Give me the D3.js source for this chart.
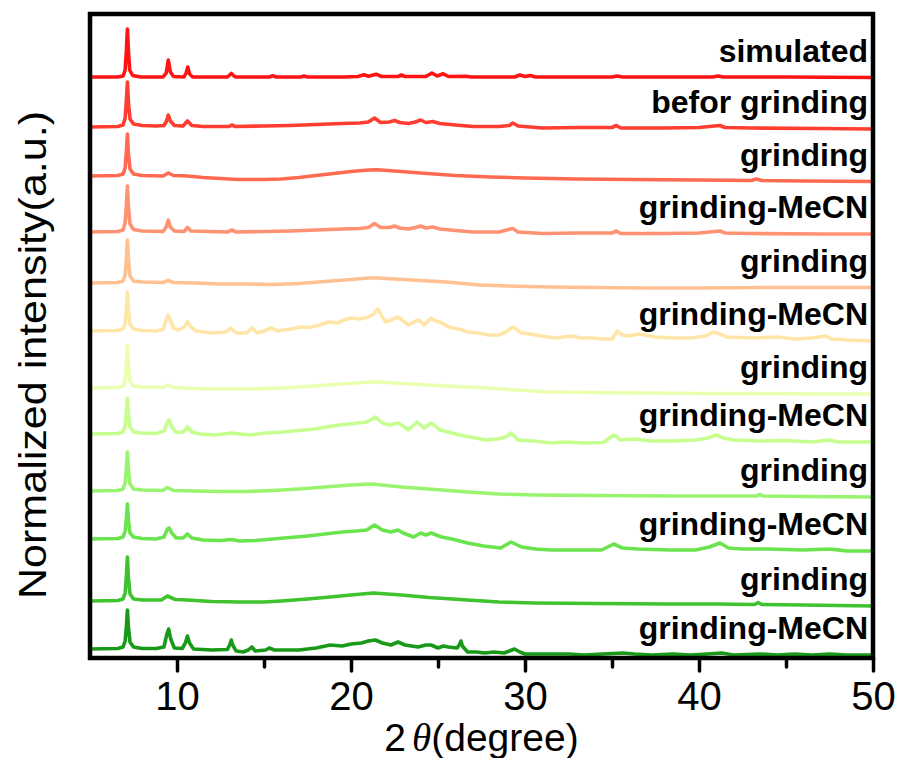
<!DOCTYPE html>
<html>
<head>
<meta charset="utf-8">
<script src="https://cdn.jsdelivr.net/npm/d3@7"></script>
<style>
    html, body { margin: 0; padding: 0; background: #fff; }
    svg text { font-family: "Liberation Sans", Arial, sans-serif; }
</style>
</head>
<body>
<div id="chart"></div>
<script>
// Sample labels (top to bottom)
const sampleLabels = ['simulated', 'befor grinding', 'grinding', 'grinding-MeCN', 'grinding',
    'grinding-MeCN', 'grinding', 'grinding-MeCN', 'grinding', 'grinding-MeCN', 'grinding', 'grinding-MeCN'];

const traceColors = ['#ff1414', '#ff3d30', '#ff6a50', '#ff9272', '#ffc092', '#ffe6a8',
    '#eaffb0', '#c6ff8e', '#98f46e', '#6ae44c', '#3ec22e', '#189a18'];

// Stacking offsets (a.u.)
const offsets = [58.1, 53.1, 48.2, 42.6, 37.5, 32.7, 27.0, 22.4, 16.7, 11.9, 5.7, 0.9];

// Axis ticks
const majorTicks = [10, 20, 30, 40, 50];
const minorTicks = [15, 25, 35, 45];

// Patterns: [2theta, relative intensity]
const simulated = [[5,0],[6.6,0],[6.9,0.1],[7.02,0.7],[7.09,2.6],[7.15,4.8],[7.21,2.6],[7.28,0.7],[7.45,0.15],[7.9,0],
    [9.2,0],[9.38,0.4],[9.5,1.7],[9.62,0.5],[9.8,0.05],[10.4,0],[10.52,0.4],[10.62,1.0],[10.72,0.3],[10.9,0],
    [12.9,0],[13.12,0.35],[13.35,0],[15.3,0],[15.5,0.12],[15.7,0],[17.1,0],[17.3,0.1],[17.5,0],
    [19.6,0],[20.4,0.05],[20.75,0.22],[21.0,0.08],[21.45,0.28],[21.75,0.05],[22.7,0.05],[22.9,0.2],[23.1,0.05],
    [24.3,0.05],[24.65,0.4],[24.95,0.1],[25.3,0.32],[25.6,0.05],[26.6,0.08],[26.9,0],[29.4,0],[29.7,0.2],[30.0,0.05],
    [30.3,0.15],[30.6,0],[35.0,0],[35.3,0.1],[35.6,0],[40.8,0],[41.1,0.1],[41.4,0],[45,0],[50,-0.05]];

const beforGrinding = [[5,0],[6.6,0.05],[6.9,0.2],[7.02,0.9],[7.09,2.6],[7.15,4.5],[7.21,2.4],[7.3,0.8],[7.5,0.3],[8.0,0.15],[8.8,0.1],
    [9.25,0.15],[9.4,0.6],[9.5,1.2],[9.62,0.6],[9.85,0.15],[10.35,0.1],[10.6,0.6],[10.85,0.15],[11.5,0.05],
    [13,0.05],[13.15,0.2],[13.35,0.05],[15,0.1],[16.5,0.15],[18,0.25],[19.5,0.35],[20.5,0.4],[21.0,0.5],[21.35,0.9],
    [21.7,0.45],[22.2,0.5],[22.5,0.65],[22.8,0.45],[23.3,0.35],[23.7,0.5],[24.0,0.7],[24.3,0.45],[24.7,0.55],[25.1,0.35],
    [26,0.2],[27,0.05],[28.5,0.05],[29.1,0.15],[29.3,0.4],[29.6,0.1],[31,-0.1],[33,-0.05],[35,-0.05],[35.25,0.15],
    [35.5,-0.1],[38,-0.1],[40,-0.05],[41.2,0.15],[41.5,-0.05],[43,-0.1],[47,-0.15],[50,-0.2]];

const grinding1 = [[5,0],[6.6,0.05],[6.9,0.2],[7.02,0.8],[7.09,2.4],[7.15,4.2],[7.21,2.2],[7.3,0.7],[7.5,0.2],[8.0,0.05],
    [9.2,0],[9.5,0.3],[9.8,0.05],[10.6,0],[11.5,-0.15],[12.5,-0.25],[13.5,-0.35],[15,-0.35],[16,-0.3],[17,-0.15],
    [18,0.05],[19,0.25],[20,0.45],[21,0.6],[21.5,0.62],[22.5,0.5],[24,0.3],[26,0.05],[28,-0.1],[30,-0.2],[33,-0.3],
    [36,-0.35],[40,-0.4],[43,-0.45],[43.3,-0.3],[43.6,-0.45],[46,-0.5],[50,-0.55]];

const mecn1 = [[5,0],[6.6,0.05],[6.9,0.2],[7.02,0.9],[7.09,2.6],[7.15,4.6],[7.21,2.5],[7.3,0.8],[7.5,0.25],[8.0,0.1],
    [9.2,0.05],[9.38,0.5],[9.5,1.2],[9.62,0.5],[9.85,0.1],[10.4,0.05],[10.6,0.45],[10.8,0.1],[12.9,0.0],[13.15,0.2],
    [13.4,0],[15,0.05],[16.5,0.1],[18,0.2],[19.5,0.3],[20.5,0.35],[21.0,0.45],[21.35,0.85],[21.7,0.45],[22.2,0.45],
    [22.5,0.6],[22.8,0.4],[23.3,0.3],[23.7,0.45],[24.0,0.6],[24.3,0.4],[24.7,0.5],[25.1,0.3],[26,0.15],[27,0.0],
    [28.5,0.0],[29.3,0.35],[29.6,0.0],[31,-0.15],[33,-0.1],[35,-0.1],[35.25,0.1],[35.5,-0.15],[38,-0.15],[40,-0.1],
    [41.2,0.1],[41.5,-0.1],[43,-0.15],[47,-0.2],[50,-0.2]];

const grinding2 = [[5,0],[6.6,0.05],[6.9,0.2],[7.02,0.8],[7.09,2.4],[7.15,4.3],[7.21,2.3],[7.3,0.7],[7.5,0.2],[8.0,0.1],
    [9.2,0.05],[9.5,0.25],[9.8,0.05],[11,0],[12.5,-0.1],[14,-0.1],[15.5,-0.15],[17,-0.05],[18.5,0.15],[20,0.35],
    [21,0.5],[21.5,0.5],[22.5,0.4],[24,0.25],[25.5,0.1],[27.4,-0.2],[29,-0.3],[31.4,-0.4],[34,-0.45],[37,-0.5],
    [40,-0.5],[44,-0.45],[47,-0.45],[50,-0.45]];

const mecn2 = [[5,0],[6.6,0.05],[6.9,0.2],[7.02,0.8],[7.09,2.2],[7.15,3.9],[7.21,2.1],[7.3,0.7],[7.5,0.2],[8.0,0.05],
    [8.8,0],[9.2,0.15],[9.4,1.2],[9.5,1.6],[9.62,1.1],[9.8,0.3],[10.1,0.1],[10.4,0.4],[10.6,0.9],[10.8,0.4],[11.1,0.0],
    [12,-0.2],[12.8,-0.1],[13.1,0.3],[13.4,-0.2],[14.0,-0.2],[14.3,0.3],[14.6,-0.2],[15.0,0.0],[15.4,0.3],[15.8,0.0],
    [16.1,0.1],[16.6,0.2],[17.1,0.4],[17.6,0.35],[18.2,0.6],[18.7,0.9],[19.2,0.8],[19.6,1.1],[20.0,1.3],[20.5,1.2],
    [21.0,1.4],[21.3,1.7],[21.55,2.2],[21.8,1.4],[22.0,0.9],[22.3,1.1],[22.7,1.4],[23.0,1.0],[23.3,0.6],[23.6,0.9],
    [23.9,1.1],[24.2,0.6],[24.6,1.3],[24.85,1.0],[25.1,0.9],[25.4,0.6],[25.8,0.3],[26.2,0.2],[26.7,-0.1],[27.3,-0.2],
    [27.9,-0.4],[28.5,-0.4],[28.9,-0.1],[29.3,0.4],[29.8,-0.2],[30.3,-0.3],[30.95,-0.5],[31.7,-0.7],[32.2,-0.6],
    [32.7,-0.5],[33.2,-0.7],[33.8,-0.7],[34.5,-0.8],[35.0,-0.8],[35.3,0.0],[35.6,-0.4],[36.0,-0.5],[36.5,-0.3],
    [36.9,-0.4],[37.5,-0.6],[38.5,-0.7],[39.5,-0.7],[40.4,-0.5],[40.8,-0.1],[41.2,-0.3],[41.6,-0.6],[43,-0.7],
    [44.5,-0.6],[45.5,-0.8],[46.5,-0.7],[47.3,-0.5],[47.6,-0.8],[48.5,-0.9],[50,-1.0]];

const grinding3 = [[5,0],[6.6,0.05],[6.9,0.2],[7.02,0.8],[7.09,2.4],[7.15,4.3],[7.21,2.3],[7.3,0.7],[7.5,0.2],[8.0,0.1],
    [9.2,0.05],[9.5,0.3],[9.8,0.05],[11,-0.05],[12.5,-0.1],[14.2,-0.1],[16,0.0],[17.5,0.15],[19,0.35],[20.3,0.5],
    [21.4,0.62],[22.5,0.5],[24,0.35],[25.5,0.2],[27.4,0.05],[29.5,-0.2],[31.4,-0.4],[34,-0.45],[37,-0.5],[40,-0.55],
    [44,-0.55],[47,-0.6],[50,-0.6]];

const mecn3 = [[5,0],[6.6,0.05],[6.9,0.2],[7.02,0.8],[7.09,2.1],[7.15,3.6],[7.21,2.0],[7.3,0.7],[7.5,0.2],[8.0,0.1],
    [8.8,0.05],[9.25,0.3],[9.45,1.2],[9.55,1.4],[9.7,0.7],[9.95,0.15],[10.35,0.2],[10.6,0.7],[10.85,0.2],[11.3,0.0],
    [12.2,-0.1],[13.1,0.1],[14.2,-0.1],[15.1,0.1],[16.1,0.2],[17.0,0.35],[17.9,0.5],[18.6,0.7],[19.3,0.9],[19.9,1.0],
    [20.4,1.1],[20.9,1.2],[21.4,1.7],[21.8,1.1],[22.2,0.9],[22.7,1.1],[23.0,0.8],[23.3,0.4],[23.55,0.8],[23.8,1.2],
    [24.2,0.6],[24.6,1.1],[24.85,0.8],[25.1,0.4],[25.8,0.1],[26.5,-0.2],[27.2,-0.4],[27.7,-0.6],[28.4,-0.5],
    [28.9,-0.3],[29.2,0.1],[29.6,-0.6],[30.5,-0.7],[31.5,-0.9],[32.4,-0.8],[33.4,-0.9],[34.5,-0.85],[35.1,-0.1],
    [35.5,-0.6],[36.3,-0.5],[37.2,-0.7],[38.5,-0.7],[39.8,-0.6],[40.5,-0.4],[41.0,-0.1],[41.4,-0.4],[42,-0.6],
    [43.5,-0.7],[45,-0.65],[46.5,-0.8],[47.5,-0.6],[48,-0.8],[50,-0.8]];

const grinding4 = [[5,0],[6.6,0.05],[6.9,0.2],[7.02,0.8],[7.09,2.2],[7.15,3.9],[7.21,2.1],[7.3,0.7],[7.5,0.2],[8.0,0.1],
    [9.2,0.05],[9.45,0.35],[9.8,0.05],[11,0.0],[12.5,-0.05],[14,-0.05],[15.5,0.05],[17,0.2],[18.5,0.4],[20,0.6],
    [21.2,0.7],[22.9,0.4],[24.5,0.2],[26.7,-0.1],[28.5,-0.3],[30.5,-0.4],[34,-0.45],[38.3,-0.5],[41,-0.5],
    [43.3,-0.5],[43.5,-0.35],[43.7,-0.5],[46,-0.55],[50,-0.6]];

const mecn4 = [[5,0],[6.6,0.05],[6.9,0.2],[7.02,0.8],[7.09,2.0],[7.15,3.5],[7.21,1.9],[7.3,0.6],[7.5,0.2],[8.0,0.05],
    [8.8,0.0],[9.25,0.2],[9.45,1.0],[9.55,1.1],[9.7,0.6],[9.95,0.1],[10.35,0.1],[10.6,0.5],[10.85,0.1],[11.5,-0.1],
    [12.5,-0.15],[13.1,-0.05],[13.6,-0.2],[14.5,-0.15],[15.5,0.0],[16.5,0.15],[17.5,0.3],[18.5,0.5],[19.5,0.7],
    [20.3,0.8],[20.9,0.9],[21.35,1.4],[21.8,0.9],[22.3,0.7],[22.7,0.9],[23.0,0.6],[23.6,0.2],[24.0,0.6],[24.3,0.4],
    [24.6,0.6],[25.2,0.2],[25.8,0.0],[26.7,-0.4],[27.6,-0.7],[28.6,-0.9],[29.2,-0.3],[29.8,-0.8],[30.6,-1.0],
    [31.5,-1.1],[33,-1.1],[34.4,-1.1],[35.1,-0.5],[35.6,-0.9],[36.5,-1.0],[38.3,-1.1],[39.8,-1.1],[40.6,-0.8],
    [41.2,-0.4],[41.7,-0.9],[42.5,-1.0],[44,-1.0],[46,-1.1],[47.5,-1.0],[48.5,-1.2],[50,-1.2]];

const grinding5 = [[5,0],[6.6,0.05],[6.9,0.2],[7.02,0.8],[7.09,2.4],[7.15,4.4],[7.21,2.3],[7.3,0.7],[7.5,0.2],[8.0,0.1],
    [9.1,0.1],[9.45,0.5],[9.9,0.15],[10.6,0.1],[12,-0.05],[13.6,-0.1],[15,-0.1],[16,0.0],[17.5,0.2],[18.8,0.4],
    [20,0.6],[21.3,0.8],[22.9,0.6],[24.5,0.35],[26.7,0.1],[28.5,-0.1],[30.5,-0.2],[34,-0.25],[38.3,-0.3],[41,-0.3],
    [43.2,-0.35],[43.4,-0.15],[43.6,-0.35],[46,-0.4],[50,-0.5]];

const mecn5 = [[5,0],[6.6,0.05],[6.9,0.2],[7.02,0.8],[7.09,2.2],[7.15,3.9],[7.21,2.1],[7.3,0.7],[7.5,0.2],[8.0,0.05],
    [8.8,0.05],[9.25,0.2],[9.42,1.5],[9.52,2.0],[9.64,1.0],[9.85,0.1],[10.3,0.05],[10.48,0.6],[10.6,1.3],[10.72,0.6],
    [10.95,0.0],[12.0,-0.1],[12.9,-0.05],[13.05,0.5],[13.12,0.9],[13.2,0.4],[13.4,-0.2],[13.8,-0.3],[14.1,-0.1],
    [14.3,0.2],[14.5,-0.2],[15.1,-0.1],[15.3,0.1],[15.6,-0.1],[16.1,-0.1],[17.0,-0.1],[18.0,0.1],[18.8,0.4],[19.5,0.3],
    [20.0,0.5],[20.6,0.6],[21.0,0.8],[21.4,0.9],[21.8,0.6],[22.3,0.4],[22.7,0.7],[23.1,0.4],[23.85,0.2],[24.3,0.4],
    [24.6,0.4],[25.0,0.1],[25.3,0.3],[25.6,0.2],[26.1,0.1],[26.25,0.5],[26.32,0.8],[26.4,0.3],[26.7,-0.3],[27.2,-0.3],
    [27.7,-0.4],[28.2,-0.3],[28.8,-0.4],[29.4,0.0],[29.7,-0.3],[30.0,-0.5],[31,-0.5],[32.5,-0.5],[33.4,-0.6],
    [34.5,-0.5],[35.6,-0.4],[36.3,-0.5],[37.3,-0.6],[38.5,-0.5],[39.5,-0.6],[40.5,-0.5],[41.3,-0.4],[42,-0.6],
    [43.5,-0.5],[44.5,-0.6],[45.5,-0.5],[46.5,-0.6],[47.5,-0.5],[48.5,-0.6],[50,-0.6]];

const patterns = [simulated, beforGrinding, grinding1, mecn1, grinding2, mecn2,
    grinding3, mecn3, grinding4, mecn4, grinding5, mecn5];

// Render chart
function renderChart() {
    const width = 904;
    const height = 758;
    const plot = { left: 90, right: 873, top: 14, bottom: 658 };

    const svg = d3.select('#chart')
        .append('svg')
        .attr('width', width)
        .attr('height', height);

    const x = d3.scaleLinear().domain([5, 50]).range([plot.left, plot.right]);
    const y = d3.scaleLinear().domain([0, 64.4]).range([plot.bottom, plot.top]);

    // Traces
    const line = d3.line()
        .x(d => x(d[0]))
        .y(d => y(d[1]));

    const traces = patterns.map((p, i) => p.map(d => [d[0], d[1] + offsets[i]]));

    svg.append('g')
        .selectAll('path')
        .data(traces)
        .join('path')
        .attr('d', line)
        .attr('fill', 'none')
        .attr('stroke', (d, i) => traceColors[i])
        .attr('stroke-width', 3.6)
        .attr('stroke-linejoin', 'round');

    // Labels
    svg.append('g')
        .selectAll('text')
        .data(traces)
        .join('text')
        .attr('x', 868)
        .attr('y', d => y(d[d.length - 1][1]) - 16)
        .attr('text-anchor', 'end')
        .attr('font-size', '32px')
        .attr('font-weight', 'bold')
        .attr('fill', '#000')
        .text((d, i) => sampleLabels[i]);

    // Minor ticks
    const minorAxis = svg.append('g')
        .attr('transform', 'translate(0,' + plot.bottom + ')')
        .call(d3.axisBottom(x).tickValues(minorTicks).tickSize(9).tickFormat(''));
    minorAxis.select('.domain').remove();

    // Major ticks + labels
    const majorAxis = svg.append('g')
        .attr('transform', 'translate(0,' + plot.bottom + ')')
        .call(d3.axisBottom(x).tickValues(majorTicks).tickSize(13).tickPadding(11).tickFormat(d3.format('d')));
    majorAxis.select('.domain').remove();
    majorAxis.selectAll('text')
        .attr('font-size', '40px')
        .attr('fill', '#000')
        .style('font-family', '"Liberation Sans", Arial, sans-serif');

    svg.selectAll('.tick line')
        .attr('stroke', '#000')
        .attr('stroke-width', 3.5)
        .attr('stroke-linecap', 'round');

    // Frame
    svg.append('rect')
        .attr('x', plot.left)
        .attr('y', plot.top)
        .attr('width', plot.right - plot.left)
        .attr('height', plot.bottom - plot.top)
        .attr('fill', 'none')
        .attr('stroke', '#000')
        .attr('stroke-width', 4.5);

    // X title
    const xTitle = svg.append('text')
        .attr('x', (plot.left + plot.right) / 2)
        .attr('y', 751)
        .attr('text-anchor', 'middle')
        .attr('font-size', '39px')
        .attr('fill', '#000');
    xTitle.append('tspan').text('2');
    xTitle.append('tspan')
        .attr('dx', 6)
        .style('font-family', '"Liberation Serif", "DejaVu Serif", serif')
        .attr('font-style', 'italic')
        .text('θ');
    xTitle.append('tspan').text('(degree)');

    // Y title
    svg.append('text')
        .attr('transform', 'translate(46,355) rotate(-90)')
        .attr('text-anchor', 'middle')
        .attr('font-size', '39px')
        .attr('fill', '#000')
        .attr('textLength', 488)
        .attr('lengthAdjust', 'spacingAndGlyphs')
        .text('Normalized intensity(a.u.)');
}

renderChart();
</script>
</body>
</html>
